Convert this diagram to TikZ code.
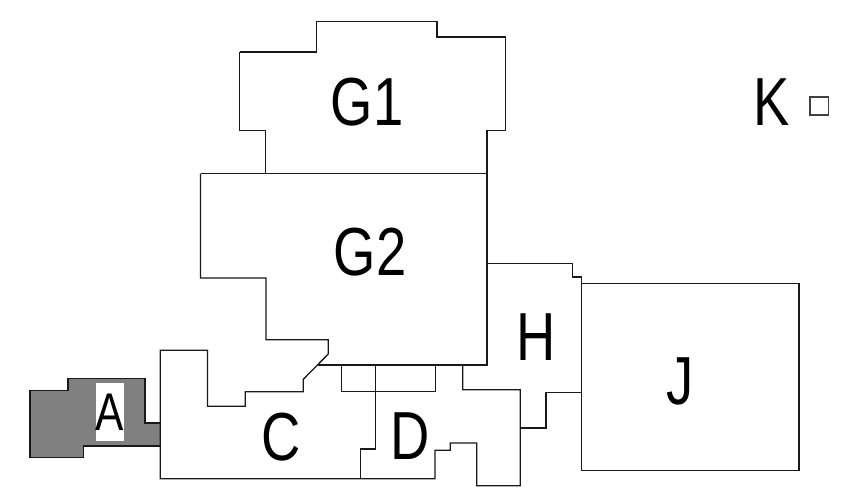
\documentclass[tikz,border=0pt]{standalone}
\usepackage{fontspec}
\setmainfont{Liberation Sans}
\newcommand{\roomname}[1]{\scalebox{0.8}[1]{#1}}

\begin{document}
\begin{tikzpicture}[x=1pt,y=-1pt]
	\tikzstyle{room}=[draw=black!90,line width=1.3pt,line join=miter]
	\tikzstyle{wing}=[room,fill=black!50]
	\tikzstyle{label}=[inner sep=0pt,font=\fontsize{68}{68}\selectfont]

	\useasboundingbox (0,0) rectangle (846,491);

	\draw [wing] (30,390.3) -- (68,390.3) -- (68,378.7) -- (145,378.7) -- (145,423) -- (160.3,423) -- (160.3,446) -- (83.7,446) -- (83.7,457.7) -- (30,457.7) -- cycle;
	\draw [room] (239.7,52) -- (316.3,52) -- (316.3,21.3) -- (437,21.3) -- (437,37) -- (505.7,37) -- (505.7,130.3) -- (487,130.3) -- (487,173.5);
	\draw [room] (239.7,52) -- (239.7,130.3) -- (265.7,130.3) -- (265.7,173.5);
	\draw [room] (200.5,173.5) -- (487,173.5) -- (487,365) -- (318.3,365);
	\draw [room] (200.5,173.5) -- (200.5,278) -- (266,278) -- (266,339.7) -- (328.3,339.7) -- (328.3,354) -- (303.3,379.3) -- (303.3,391.7) -- (245.3,391.7) -- (245.3,406.3) -- (207.5,406.3) -- (207.5,350.3) -- (160.3,350.3) -- (160.3,478.7) -- (435,478.7) -- (435,450.3) -- (450.3,450.3) -- (450.3,443) -- (476.7,443) -- (476.7,485.7) -- (520.3,485.7) -- (520.3,389.7) -- (462.7,389.7) -- (462.7,365);
	\draw [room] (341.7,365) -- (341.7,391.7) -- (435.7,391.7) -- (435.7,365);
	\draw [room] (375.7,365) -- (375.7,449) -- (360.7,449) -- (360.7,478.7);
	\draw [room] (487,263.3) -- (572.3,263.3) -- (572.3,277) -- (581.7,277) -- (581.7,392.3) -- (546,392.3) -- (546,428) -- (520.3,428);
	\draw [room] (581.7,283.7) -- (799,283.7) -- (799,470.3) -- (581.7,470.3) -- cycle;
	\draw [room,draw=black!75] (810,97) rectangle (828.7,115);

	\node (labelA) [label,fill=white,minimum width=28pt,minimum height=58pt,font=\fontsize{53}{53}\selectfont] at (110,412) {\roomname{A}};
	\node (labelC) [label] at (281,437.5) {\roomname{C}};
	\node (labelD) [label] at (410.5,436.5) {\roomname{D}};
	\node (labelGa) [label] at (367,102) {\roomname{G1}};
	\node (labelGb) [label] at (370,252) {\roomname{G2}};
	\node (labelH) [label] at (536,337) {\roomname{H}};
	\node (labelJ) [label] at (680,381) {\roomname{J}};
	\node (labelK) [label] at (771.7,102) {\roomname{K}};
\end{tikzpicture}
\end{document}
